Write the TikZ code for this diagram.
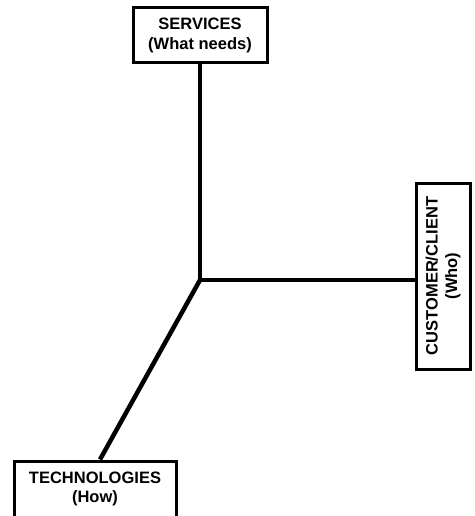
\documentclass[tikz,border=0pt]{standalone}
\usepackage{fontspec}
\setmainfont{Liberation Sans}
\usetikzlibrary{positioning}
\begin{document}
\begin{tikzpicture}[x=1pt,y=-1pt,
        axis/.style={line width=4.5pt},
        box/.style={draw,line width=3pt,align=center,inner sep=2pt,
            font=\fontsize{16.5}{19.5}\selectfont\bfseries}]
    \useasboundingbox (0,0) rectangle (474,516);

    \coordinate (o) at (200,280);
    \node[box,minimum width=134pt,minimum height=55pt] (services) at (200,35.5) {SERVICES\\(What needs)};
    \node[box,rotate=90,minimum width=186pt,minimum height=54pt] (customer) at (443,276) {CUSTOMER/CLIENT\\(Who)};
    \node[box,minimum width=162pt,minimum height=56pt] (tech) at (95,489) {TECHNOLOGIES\\(How)};

    \draw[axis] (services.south) -- (o);
    \draw[axis] (o) -- (customer.north |- o);
    \draw[axis] (o) -- ([xshift=5pt]tech.north);
\end{tikzpicture}
\end{document}
